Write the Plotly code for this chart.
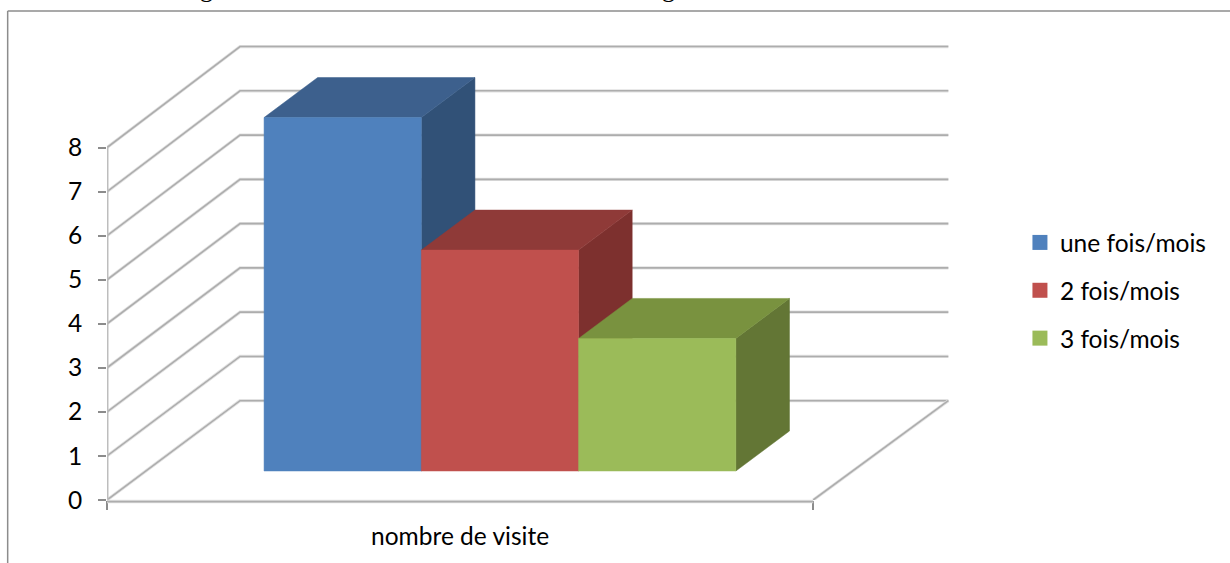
import plotly.graph_objects as go

category = "nombre de visite"
series_names = ["une fois/mois", "2 fois/mois", "3 fois/mois"]
series_values = [8, 5, 3]
y_ticks = [0, 1, 2, 3, 4, 5, 6, 7, 8]
front_colors = ["#4F81BD", "#C0504D", "#9BBB59"]
top_colors = ["#3D608D", "#8F3A38", "#79923F"]
side_colors = ["#315177", "#7D302E", "#637635"]

# plot box in page pixels
W, H = 1230, 563
L, R, T, B = 107.3, 1230.0, 12.0, 500.0
unit_px = 44.05          # one value unit at the front plane
cat_px = 706.0           # category width
x_max = (R - L) / cat_px
y_max = (B - T) / unit_px
# oblique depth shear
depth_dx = 133.0 / cat_px
depth_dy = 99.3 / unit_px
wall_scale = 1.005
wall_width = 1.003
bar_scale = 1.003
gap = 0.1674
bar_w = 0.2227
d_front, d_back = 0.292, 0.695
GRID = "#ADADAD"
GRID_SOFT = "#E2E2E2"
FONT = "Lato"
FS = 24.5


def proj(u, v, d, k=1.0):
    return u + d * depth_dx, v * k + d * depth_dy


def poly(points, color, name=None):
    xs = [p[0] for p in points] + [points[0][0]]
    ys = [p[1] for p in points] + [points[0][1]]
    return go.Scatter(x=xs, y=ys, mode="lines", fill="toself", fillcolor=color,
                      line=dict(color=color, width=0.5), showlegend=False,
                      hoverinfo="skip", name=name, cliponaxis=False)


def wall_line(xs, ys):
    for color, width in ((GRID_SOFT, 3.2), (GRID, 1.6)):
        fig.add_trace(go.Scatter(x=xs, y=ys, mode="lines", showlegend=False, cliponaxis=False,
                                 hoverinfo="skip", line=dict(color=color, width=width)))


def axis_line(x0, y0, x1, y1):
    for color, width in ((GRID_SOFT, 3.6), (GRID, 1.8)):
        fig.add_shape(type="line", xref="paper", yref="paper",
                      x0=px(L + x0 * cat_px), y0=py(B - y0 * unit_px),
                      x1=px(L + x1 * cat_px), y1=py(B - y1 * unit_px),
                      layer="above", line=dict(color=color, width=width))


def px(p):
    return (p - L) / (R - L)


def py(p):
    return (B - p) / (B - T)


fig = go.Figure()

# walls and floor
for v in y_ticks:
    a = proj(0, v, 0)
    b = proj(0, v, 1, wall_scale)
    c = proj(wall_width, v, 1, wall_scale)
    wall_line([a[0], b[0], c[0]], [a[1], b[1], c[1]])
fl = [proj(wall_width, 0, 1, wall_scale), proj(1, 0, 0)]
wall_line([fl[0][0], fl[1][0]], [fl[0][1], fl[1][1]])
axis_line(0, -0.035, 1, -0.035)
# value axis as a thin filled strip
strip = 1.2 / cat_px
fig.add_trace(poly([(-strip, 0), (strip, 0), (strip, y_ticks[-1]), (-strip, y_ticks[-1])], "#BDBDBD"))

# bars, drawn back to front from left to right
for i, val in enumerate(series_values):
    u0 = gap + i * bar_w
    u1 = u0 + bar_w
    top = [proj(u0, val, d_front, bar_scale), proj(u0, val, d_back, bar_scale),
           proj(u1, val, d_back, bar_scale), proj(u1, val, d_front, bar_scale)]
    side = [proj(u1, 0, d_front), proj(u1, 0, d_back),
            proj(u1, val, d_back, bar_scale), proj(u1, val, d_front, bar_scale)]
    front = [proj(u0, 0, d_front), proj(u1, 0, d_front),
             proj(u1, val, d_front, bar_scale), proj(u0, val, d_front, bar_scale)]
    fig.add_trace(poly(side, side_colors[i]))
    fig.add_trace(poly(top, top_colors[i]))
    fig.add_trace(poly(front, front_colors[i], series_names[i]))

# legend entries
for name, color in zip(series_names, front_colors):
    fig.add_trace(go.Scatter(x=[None], y=[None], mode="markers", name=name,
                             legendgroup=name,
                             marker=dict(symbol="square", size=15, color=color)))

frame = "#8C8C8C"
fig.add_shape(type="line", xref="paper", yref="paper", x0=px(8), x1=px(8),
              y0=py(11), y1=py(H), line=dict(color=frame, width=1.5))
fig.add_shape(type="line", xref="paper", yref="paper", x0=px(8), x1=px(W),
              y0=py(11), y1=py(11), line=dict(color=frame, width=1.5))

# descenders of the page title cropped by the top of the picture
for gx in (207, 669):
    fig.add_annotation(text="g", xref="paper", yref="paper", x=px(gx), y=py(5),
                       xanchor="center", yanchor="bottom", showarrow=False,
                       font=dict(family="Liberation Serif", size=26, color="#000000"))

fig.update_layout(
    width=W, height=H, autosize=False,
    margin=dict(l=L, r=W - R, t=T, b=H - B, pad=0),
    paper_bgcolor="white", plot_bgcolor="white",
    font=dict(family=FONT, size=FS, color="#000000"),
    showlegend=True,
    legend=dict(x=px(1020), y=py(220), xanchor="left", yanchor="top",
                bgcolor="rgba(0,0,0,0)", tracegroupgap=13, itemwidth=30,
                font=dict(family=FONT, size=FS, color="#000000")),
    xaxis=dict(range=[0, x_max], tickmode="array", tickvals=[0.5], ticktext=[category],
               ticks="outside", ticklen=15, tickcolor="rgba(0,0,0,0)",
               showgrid=False, zeroline=False, showline=False,
               minor=dict(tickmode="array", tickvals=[0, 1], ticks="outside",
                          ticklen=9, tickcolor="#8C8C8C", tickwidth=1.5, showgrid=False)),
    yaxis=dict(range=[0, y_max], tickmode="array", tickvals=y_ticks,
               ticktext=[str(t) for t in y_ticks],
               ticks="outside", ticklen=8, tickcolor="#8C8C8C", tickwidth=1.5,
               ticklabelstandoff=11,
               showgrid=False, zeroline=False, showline=False),
)

fig.write_html("out.html", config={"displayModeBar": False},
               post_script="document.body.style.margin='0';document.body.style.overflow='hidden';")
